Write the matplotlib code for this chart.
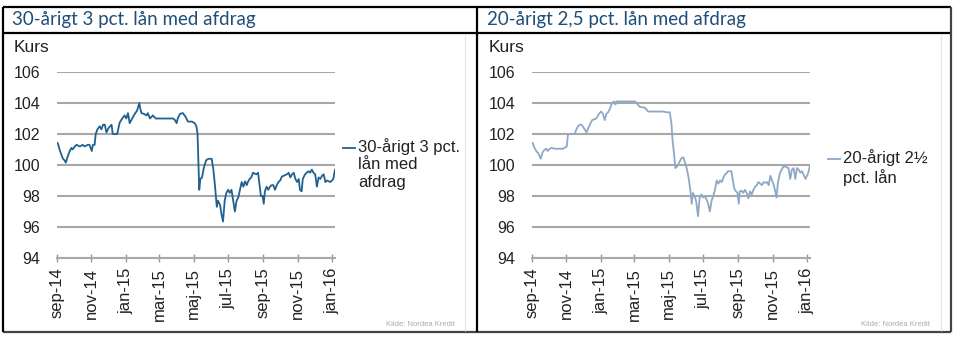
import pandas as pd
import matplotlib
matplotlib.use('Agg')
import matplotlib.pyplot as plt

# data (kurs)
dates = ['2014-09-01', '2014-09-03', '2014-09-06', '2014-09-10', '2014-09-12', '2014-09-15',
         '2014-09-17', '2014-09-20', '2014-09-24', '2014-09-27', '2014-09-29', '2014-10-03',
         '2014-10-06', '2014-10-12', '2014-10-17', '2014-10-20', '2014-10-26', '2014-10-29',
         '2014-11-02', '2014-11-04', '2014-11-07', '2014-11-09', '2014-11-12', '2014-11-16',
         '2014-11-19', '2014-11-22', '2014-11-25', '2014-11-28', '2014-12-02', '2014-12-07',
         '2014-12-09', '2014-12-14', '2014-12-17', '2014-12-21', '2014-12-24', '2014-12-30',
         '2015-01-02', '2015-01-05', '2015-01-08', '2015-01-11', '2015-01-14', '2015-01-17',
         '2015-01-21', '2015-01-25', '2015-01-27', '2015-01-29', '2015-02-02', '2015-02-07',
         '2015-02-09', '2015-02-13', '2015-02-18', '2015-02-23', '2015-03-03', '2015-03-11',
         '2015-03-20', '2015-03-26', '2015-03-29', '2015-04-01', '2015-04-03', '2015-04-07',
         '2015-04-12', '2015-04-17', '2015-04-21', '2015-04-28', '2015-05-03', '2015-05-06',
         '2015-05-08', '2015-05-11', '2015-05-13', '2015-05-16', '2015-05-19', '2015-05-23',
         '2015-05-27', '2015-06-02', '2015-06-05', '2015-06-08', '2015-06-11', '2015-06-13',
         '2015-06-17', '2015-06-19', '2015-06-22', '2015-06-25', '2015-06-28', '2015-07-01',
         '2015-07-04', '2015-07-07', '2015-07-10', '2015-07-13', '2015-07-16', '2015-07-19',
         '2015-07-22', '2015-07-25', '2015-07-28', '2015-07-31', '2015-08-03', '2015-08-05',
         '2015-08-08', '2015-08-11', '2015-08-14', '2015-08-20', '2015-08-23', '2015-08-25',
         '2015-08-28', '2015-08-31', '2015-09-02', '2015-09-04', '2015-09-07', '2015-09-10',
         '2015-09-13', '2015-09-16', '2015-09-19', '2015-09-22', '2015-09-25', '2015-09-28',
         '2015-10-01', '2015-10-04', '2015-10-07', '2015-10-13', '2015-10-16', '2015-10-19',
         '2015-10-22', '2015-10-25', '2015-10-28', '2015-10-31', '2015-11-03', '2015-11-05',
         '2015-11-08', '2015-11-10', '2015-11-14', '2015-11-17', '2015-11-20', '2015-11-23',
         '2015-11-26', '2015-11-29', '2015-12-02', '2015-12-05', '2015-12-08', '2015-12-11',
         '2015-12-14', '2015-12-17', '2015-12-20', '2015-12-23', '2015-12-29', '2016-01-03',
         '2016-01-06']

kurs_30 = [101.45, 101.4, 101.0, 100.6, 100.4, 100.3,
           100.15, 100.5, 100.9, 101.1, 101.0, 101.2,
           101.3, 101.2, 101.3, 101.2, 101.3, 101.3,
           100.9, 101.3, 101.3, 102.0, 102.3, 102.5,
           102.3, 102.6, 102.6, 102.1, 102.4, 102.6,
           102.0, 102.0, 102.0, 102.7, 102.9, 103.2,
           103.0, 103.35, 102.7, 102.9, 103.1, 103.3,
           103.5, 104.0, 103.6, 103.35, 103.3, 103.2,
           103.35, 103.0, 103.2, 103.0, 103.0, 103.0,
           103.0, 103.0, 102.9, 102.7, 103.0, 103.3,
           103.35, 103.1, 102.8, 102.8, 102.7, 102.5,
           102.0, 98.4, 99.1, 99.2, 99.8, 100.3,
           100.4, 100.4, 99.7, 98.6, 97.3, 97.7,
           97.4, 96.9, 96.35, 97.7, 98.2, 98.4,
           98.2, 98.4, 97.7, 97.0, 97.7, 97.9,
           98.4, 98.9, 98.6, 98.95, 98.7, 98.9,
           99.1, 99.2, 99.5, 99.4, 99.5, 98.9,
           98.0, 98.0, 97.5, 98.3, 98.6, 98.4,
           98.6, 98.7, 98.7, 98.4, 98.7, 98.9,
           99.0, 99.25, 99.3, 99.4, 99.5, 99.2,
           99.4, 99.5, 99.1, 98.9, 99.1, 98.4,
           98.3, 99.1, 99.4, 99.5, 99.6, 99.5,
           99.7, 99.5, 99.4, 98.6, 99.2, 99.1,
           99.3, 99.4, 98.9, 99.0, 98.9, 99.1,
           99.7]

kurs_20 = [101.45, 101.4, 101.1, 100.85, 100.8, 100.55,
           100.4, 100.8, 101.0, 101.05, 100.9, 101.05,
           101.1, 101.05, 101.05, 101.05, 101.05, 101.1,
           101.2, 101.95, 102.0, 102.0, 102.0, 102.0,
           102.3, 102.5, 102.6, 102.6, 102.4, 102.1,
           102.3, 102.7, 102.9, 102.95, 103.0, 103.35,
           103.45, 103.3, 102.9, 103.3, 103.4, 103.6,
           104.0, 104.1, 103.9, 104.1, 104.1, 104.1,
           104.1, 104.1, 104.1, 104.1, 104.1, 103.75,
           103.7, 103.45, 103.45, 103.45, 103.45, 103.45,
           103.45, 103.45, 103.45, 103.4, 103.4, 102.7,
           101.6, 100.6, 99.8, 99.9, 100.1, 100.4,
           100.5, 99.8, 99.25, 98.5, 97.5, 98.2,
           97.9, 97.6, 96.7, 97.9, 98.1, 97.9,
           98.0, 97.8, 97.5, 97.0, 97.7, 98.0,
           98.4, 99.0, 98.8, 99.0, 98.9, 99.1,
           99.35, 99.45, 99.6, 99.6, 98.95, 98.5,
           98.3, 98.2, 97.5, 98.3, 98.35, 98.2,
           98.4, 98.2, 97.85, 98.3, 98.1, 98.4,
           98.6, 98.7, 98.9, 98.7, 98.9, 98.85,
           98.9, 98.7, 99.3, 99.0, 98.7, 98.4,
           97.9, 98.8, 99.5, 99.7, 99.9, 99.9,
           99.85, 99.8, 99.1, 99.7, 99.8, 99.1,
           99.8, 99.7, 99.5, 99.6, 99.1, 99.5,
           100.0]

tick_dates = ['2014-09-01', '2014-11-01', '2015-01-01', '2015-03-01', '2015-05-01',
              '2015-07-01', '2015-09-01', '2015-11-01', '2016-01-01']
tick_labels = ['sep-14', 'nov-14', 'jan-15', 'mar-15', 'maj-15', 'jul-15', 'sep-15', 'nov-15', 'jan-16']
y_ticks = [94, 96, 98, 100, 102, 104, 106]

titles = ['30-årigt 3 pct. lån med afdrag', '20-årigt 2,5 pct. lån med afdrag']
legend_labels = ['30-årigt 3 pct.\nlån med\nafdrag', '20-årigt 2½\npct. lån']
colors = ['#22618f', '#8ea8c6']

plt.rcParams['font.family'] = ['Liberation Sans', 'DejaVu Sans']

W, H = 960, 342
fig = plt.figure(figsize=(W / 100, H / 100), dpi=100)
fig.patch.set_facecolor('white')

x = pd.to_datetime(dates)
ticks = pd.to_datetime(tick_dates)


def px(x0, y0):
    # pixel position -> figure fraction
    return x0 / W, 1 - y0 / H


# table frame around the two charts (pixel coords)
frame = fig.add_axes([0, 0, 1, 1], zorder=-1)
frame.set_xlim(0, W)
frame.set_ylim(H, 0)
frame.axis('off')
for xs, ys, c, lw in [([3, 951], [7, 7], 'black', 1.6),
                      ([3, 951], [33, 33], 'black', 1.6),
                      ([3, 951], [332, 332], '#444444', 1.6),
                      ([3, 3], [7, 332], 'black', 1.6),
                      ([476.5, 476.5], [7, 332], 'black', 1.6),
                      ([951, 951], [7, 332], '#444444', 1.6),
                      ([465, 465], [34, 331], '#e6e6e6', 0.8),
                      ([941, 941], [34, 331], '#e6e6e6', 0.8)]:
    frame.plot(xs, ys, color=c, lw=lw, solid_capstyle='butt')

series = [kurs_30, kurs_20]
# legend key: (x of line start, y of first text line)
legend_pos = [(343, 148), (828, 159)]
for i in range(2):
    off = 475 * i
    l, b = px(56.7 + off, 258)
    r, t = px(335 + off, 72)
    ax = fig.add_axes([l, b, r - l, t - b])
    ax.plot(x, series[i], color=colors[i], lw=1.3)
    ax.set_xlim(x[0], x[-1])
    ax.set_ylim(94, 106)
    ax.set_yticks(y_ticks)
    ax.set_xticks(ticks)
    ax.set_xticklabels(tick_labels, rotation=90, fontsize=12, color='#222222')
    ax.tick_params(axis='y', length=0, pad=12, labelsize=11.5, labelcolor='#222222')
    ax.tick_params(axis='x', direction='inout', length=6, width=1, color='#999999', pad=4)
    ax.grid(axis='y', color='#a8a8a8', lw=1.5)
    ax.set_axisbelow(True)
    for s in ['top', 'right', 'left']:
        ax.spines[s].set_visible(False)
    ax.spines['bottom'].set_color('#a8a8a8')
    ax.spines['bottom'].set_linewidth(1.5)

    fig.text(*px(12 + off, 20), titles[i], family=['Lato', 'DejaVu Sans'], fontsize=13.5,
             color='#1f4e79', va='center', ha='left')
    fig.text(*px(14 + off, 48), 'Kurs', fontsize=12.5, color='#222222', va='center', ha='left')
    fig.text(*px(455 + off, 325), 'Kilde: Nordea Kredit', fontsize=5.5, color='#aaaaaa',
             va='center', ha='right')

    # legend: short key line next to the first label line
    lx, ly = legend_pos[i]
    frame.plot([lx, lx + 12], [ly, ly], color=colors[i], lw=1.3)
    frame.text(lx + 15, ly - 10, legend_labels[i], fontsize=12, color='#222222',
               va='top', ha='left', linespacing=1.2)

fig.savefig('out.png', dpi=100, facecolor='white')
